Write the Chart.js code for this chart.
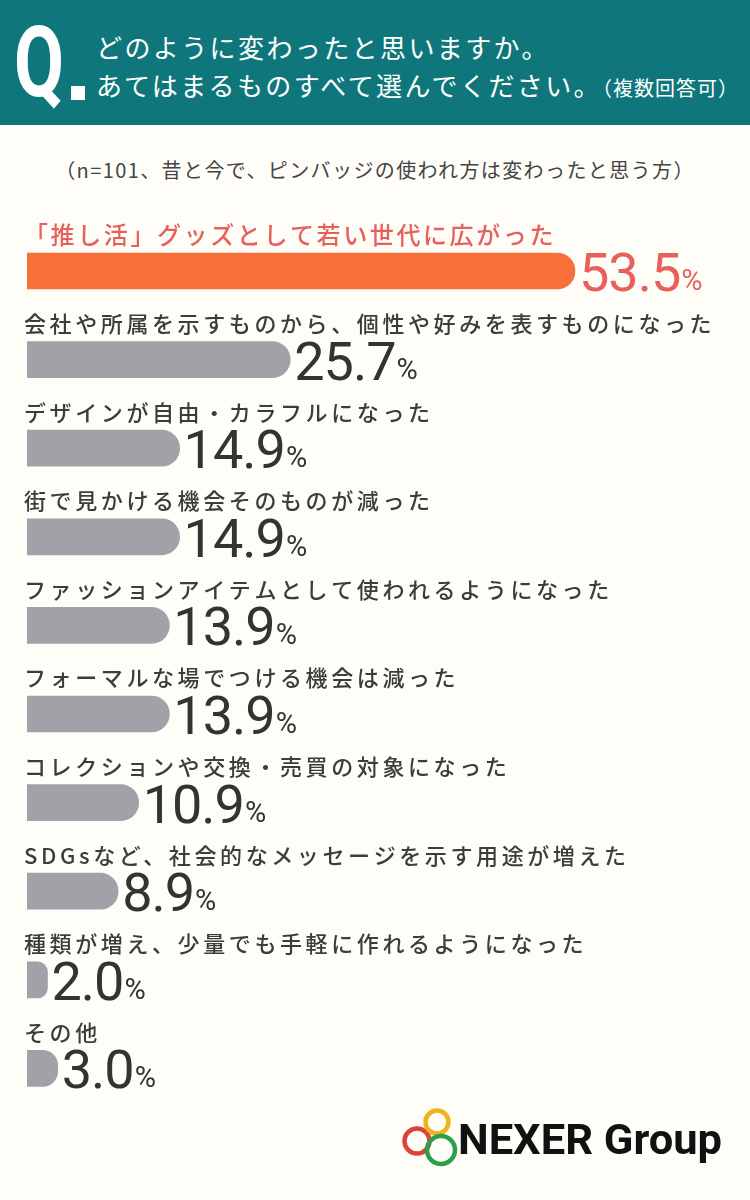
<!DOCTYPE html>
<html lang="ja">
<head>
<meta charset="utf-8">
<script src="https://cdn.jsdelivr.net/npm/chart.js@4.4.1/dist/chart.umd.min.js"></script>
<style>
  html, body { margin: 0; padding: 0; }
  body { width: 750px; height: 1200px; background: #fffdf8; position: relative; overflow: hidden;
         font-family: "Noto Sans CJK JP", "Noto Sans", sans-serif; }
  .header { position: absolute; left: 0; top: 0; width: 750px; height: 125px; background: #0f777b; color: #fff; }
  .q { position: absolute; left: 14px; top: 14px; font-family: Roboto, sans-serif; font-weight: 700; font-size: 98px;
       line-height: 98px; transform: scaleX(0.74); transform-origin: left top; }
  .qdot { position: absolute; left: 71px; top: 86px; width: 14px; height: 14px; background: #fff; }
  .l1, .l2 { position: absolute; left: 96px; font-size: 26px; font-weight: 400; letter-spacing: 2.4px; white-space: nowrap; }
  .l1 { top: 28px; }
  .l2 { top: 66px; }
  .l2 small { font-size: 20px; letter-spacing: 1px; }
  .sub { position: absolute; left: 0; width: 750px; top: 155px; text-align: center; font-size: 20px; color: #444;
         letter-spacing: 1.4px; }
  #chartBox { position: absolute; left: 0; top: 210px; width: 750px; height: 910px; }
  .logo { position: absolute; left: 398px; top: 1106px; }
</style>
</head>
<body>
<div class="header">
  <div class="q">Q</div>
  <div class="qdot"></div>
  <div class="l1">どのように変わったと思いますか。</div>
  <div class="l2">あてはまるものすべて選んでください。<small>（複数回答可）</small></div>
</div>
<div class="sub">（n=101、昔と今で、ピンバッジの使われ方は変わったと思う方）</div>
<div id="chartBox"><canvas id="pinChart" width="750" height="910"></canvas></div>
<div class="logo">
  <svg width="340" height="66" viewBox="0 0 340 66">
    <circle cx="19" cy="35" r="12.5" fill="none" stroke="#e0403a" stroke-width="4.5"/>
    <circle cx="39" cy="16" r="11.5" fill="none" stroke="#f0b31c" stroke-width="4.5"/>
    <circle cx="43" cy="44" r="14" fill="none" stroke="#2f9e4a" stroke-width="4.5"/>
    <text x="60" y="48" font-family="Roboto, sans-serif" font-weight="700" font-size="42" fill="#111" textLength="264" lengthAdjust="spacingAndGlyphs">NEXER Group</text>
  </svg>
</div>
<script>
// 回答項目
const categories = [
  '「推し活」グッズとして若い世代に広がった',
  '会社や所属を示すものから、個性や好みを表すものになった',
  'デザインが自由・カラフルになった',
  '街で見かける機会そのものが減った',
  'ファッションアイテムとして使われるようになった',
  'フォーマルな場でつける機会は減った',
  'コレクションや交換・売買の対象になった',
  'SDGsなど、社会的なメッセージを示す用途が増えた',
  '種類が増え、少量でも手軽に作れるようになった',
  'その他'
];
// 割合（%）
const values = [53.5, 25.7, 14.9, 14.9, 13.9, 13.9, 10.9, 8.9, 2.0, 3.0];

const barColors = values.map((v, i) => i === 0 ? '#f7703a' : '#a0a2a7');

// ラベルと数値を描画するプラグイン
const labelPlugin = {
  id: 'labelPlugin',
  afterDatasetsDraw(chart) {
    const ctx = chart.ctx;
    const meta = chart.getDatasetMeta(0);
    ctx.save();
    meta.data.forEach((bar, i) => {
      const highlight = i === 0;
      // 項目名
      ctx.font = highlight ? '500 24px "Noto Sans CJK JP"' : '500 22px "Noto Sans CJK JP"';
      ctx.letterSpacing = highlight ? '2.6px' : '3.6px';
      ctx.fillStyle = highlight ? '#e8605c' : '#3c3c3c';
      ctx.textAlign = 'left';
      ctx.textBaseline = 'middle';
      ctx.fillText(categories[i], bar.base - 3, bar.y - 36);
      // 数値
      ctx.letterSpacing = '-1px';
      ctx.textBaseline = 'alphabetic';
      ctx.fillStyle = highlight ? '#e8605c' : '#333333';
      ctx.font = '400 54px Roboto';
      const txt = values[i].toFixed(1);
      const x = bar.x + 4;
      ctx.fillText(txt, x, bar.y + 20);
      const w = ctx.measureText(txt).width;
      ctx.letterSpacing = '0px';
      ctx.font = '400 29px Roboto';
      ctx.fillText('%', x + w + 1, bar.y + 19);
    });
    ctx.restore();
  }
};

document.addEventListener('DOMContentLoaded', function() {
  const ctx = document.getElementById('pinChart').getContext('2d');
  new Chart(ctx, {
    type: 'bar',
    data: {
      labels: categories,
      datasets: [{
        data: values,
        backgroundColor: barColors,
        borderWidth: 0,
        borderRadius: 18,
        borderSkipped: 'start',
        barThickness: 36
      }]
    },
    options: {
      indexAxis: 'y',
      responsive: false,
      animation: false,
      layout: { padding: { left: 27, right: 26.5, top: 16.7, bottom: 7.3 } },
      scales: {
        x: { display: false, min: 0, max: 68 },
        y: { display: false }
      },
      plugins: {
        legend: { display: false },
        tooltip: { enabled: false }
      }
    },
    plugins: [labelPlugin]
  });
});
</script>
</body>
</html>
